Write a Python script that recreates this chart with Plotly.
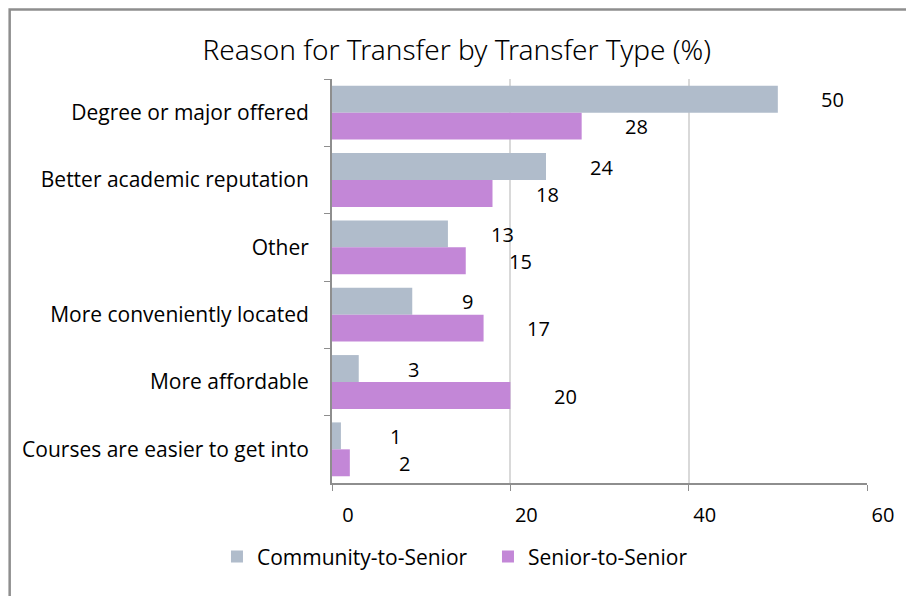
import plotly.graph_objects as go

reasons = [
    "Degree or major offered",
    "Better academic reputation",
    "Other",
    "More conveniently located",
    "More affordable",
    "Courses are easier to get into",
]
community_to_senior = [50, 24, 13, 9, 3, 1]
senior_to_senior = [28, 18, 15, 17, 20, 2]
x_ticks = [0, 20, 40, 60]

fig = go.Figure()

fig.add_trace(go.Bar(
    y=reasons, x=community_to_senior, orientation="h",
    name="Community-to-Senior",
    marker=dict(color="#B0BCCB", line=dict(width=0)),
    hoverinfo="x+name",
))
fig.add_trace(go.Bar(
    y=reasons, x=senior_to_senior, orientation="h",
    name="Senior-to-Senior",
    marker=dict(color="#C387D7", line=dict(width=0)),
    hoverinfo="x+name",
))

# data labels, Excel puts them a bit to the right of the bar end
for vals, dy in [(community_to_senior, 13), (senior_to_senior, -14)]:
    for reason, v in zip(reasons, vals):
        fig.add_annotation(
            x=v, y=reason, text=str(v), showarrow=False,
            xanchor="center", yanchor="middle",
            xshift=55, yshift=dy,
            font=dict(family="Open Sans", size=20, color="black"),
        )

# grey frame round the whole chart
fig.add_shape(
    type="rect", xref="paper", yref="paper",
    x0=-0.6025, x1=1.085, y0=-0.35, y1=1.172,
    line=dict(color="#8E8E8E", width=2.5),
    fillcolor="rgba(0,0,0,0)",
)

fig.update_layout(
    width=914, height=596,
    margin=dict(l=324, r=55, t=71, b=121, autoexpand=False),
    paper_bgcolor="white",
    plot_bgcolor="white",
    barmode="group",
    bargap=0.2,
    bargroupgap=0.0,
    title=dict(
        text="Reason for Transfer by Transfer Type (%)",
        x=0.491, xref="container", xanchor="center",
        y=0.93, yanchor="middle",
        font=dict(family="Noto Sans", size=28, color="black", weight=300),
    ),
    font=dict(family="Open Sans", size=21, color="black"),
    showlegend=True,
    legend=dict(
        orientation="h",
        x=-0.215, xanchor="left",
        y=-0.183, yanchor="middle",
        entrywidth=226, entrywidthmode="pixels",
        font=dict(family="Open Sans", size=21, color="black"),
    ),
    xaxis=dict(
        range=[0, 60],
        tickvals=x_ticks,
        automargin=False,
        showgrid=True, gridcolor="#D9D9D9", gridwidth=2,
        zeroline=False,
        showline=True, linecolor="#8E8E8E", linewidth=2,
        ticks="outside", ticklen=6, tickcolor="#8E8E8E",
        ticklabelshift=16,
        ticklabelstandoff=7,
        tickfont=dict(family="Open Sans", size=20),
    ),
    yaxis=dict(
        autorange="reversed",
        automargin=False,
        showgrid=False,
        showline=True, linecolor="#8E8E8E", linewidth=2,
        ticks="outside", ticklen=6, tickcolor="#8E8E8E",
        tickson="boundaries",
        ticklabelstandoff=17,
        tickfont=dict(family="Open Sans", size=21),
    ),
)

fig.write_html("out.html")
